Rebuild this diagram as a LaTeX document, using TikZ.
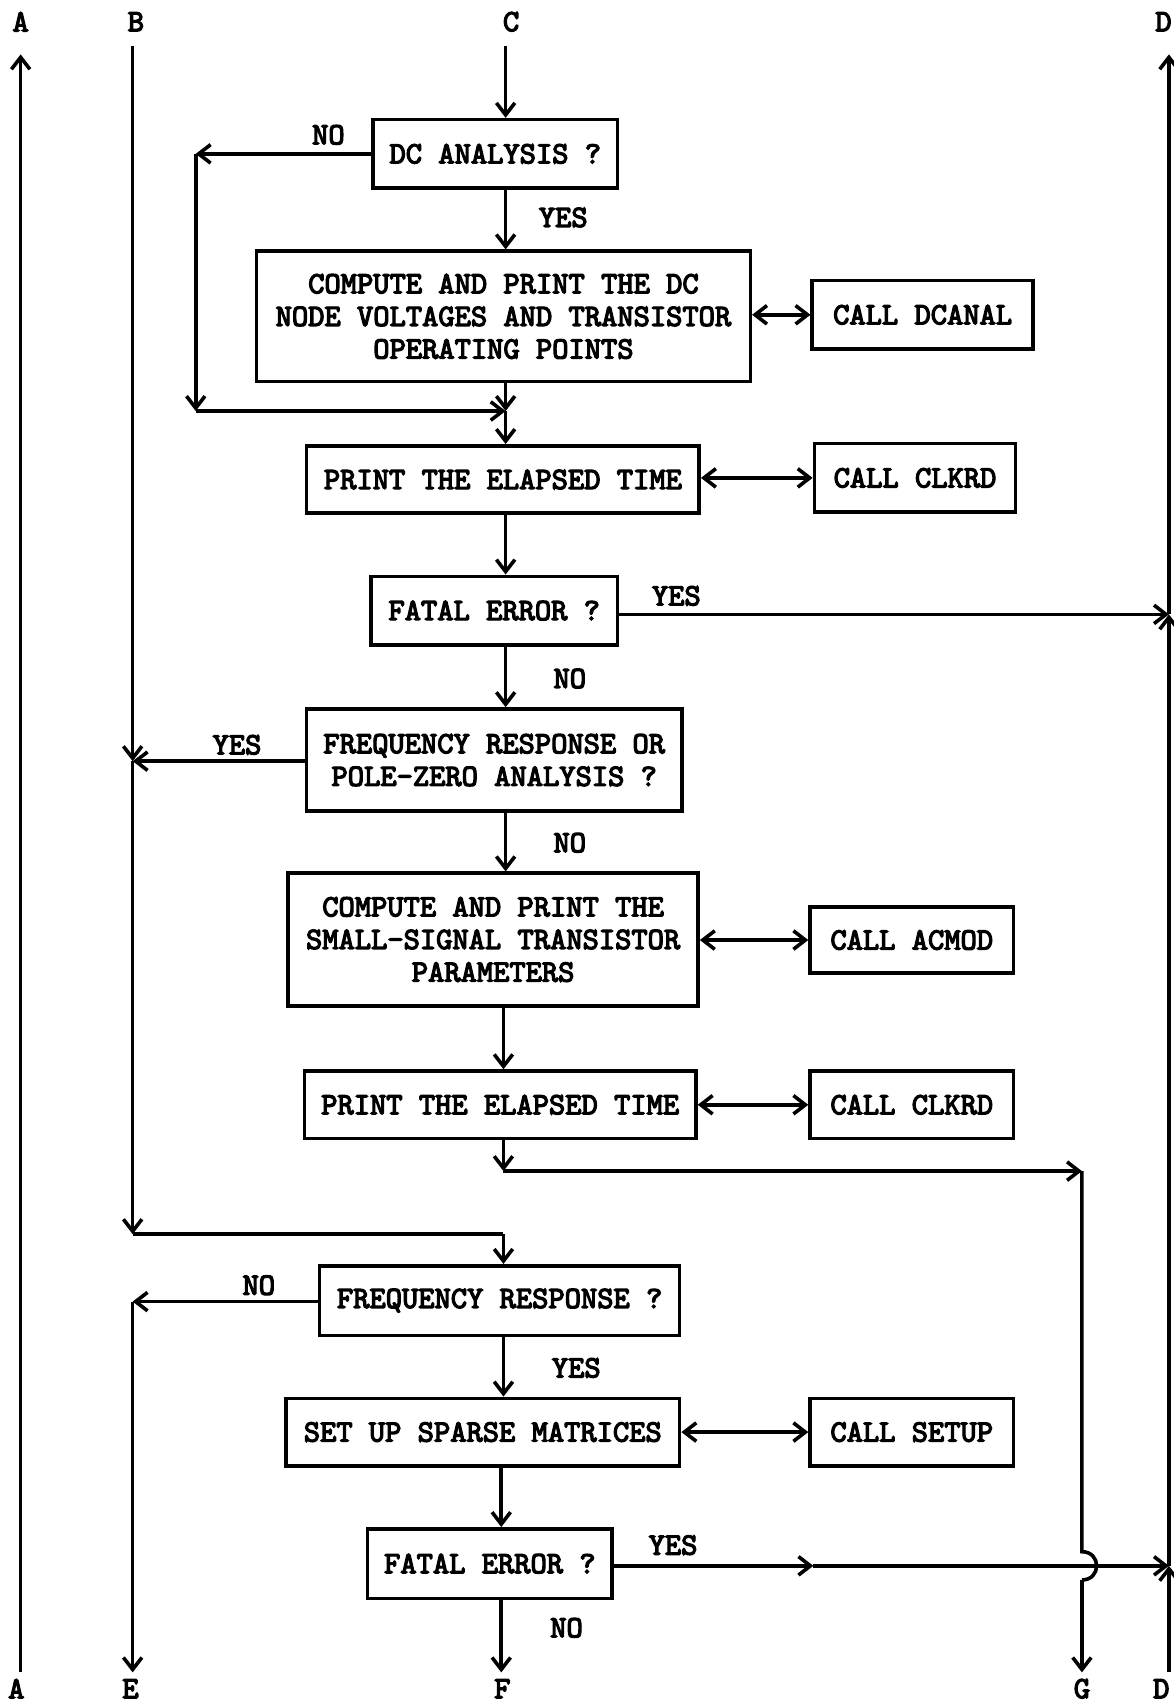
\documentclass[tikz,border=0pt]{standalone}
\usepackage{fontspec}
\newfontfamily\tw{lmmono10-regular.otf}[AutoFakeBold=4]
\usetikzlibrary{arrows.meta}
\tikzset{
  flowbox/.style={draw, line width=3.3pt, align=center, inner sep=0pt,
    font=\tw\bfseries\fontsize{28.5}{30}\selectfont},
  lbl/.style={font=\tw\bfseries\fontsize{28.5}{30}\selectfont, inner sep=0pt},
  ln/.style={line width=3.3pt},
  arr/.style={ln, -{Straight Barb[length=11pt,width=17pt]}},
  darr/.style={ln, {Straight Barb[length=11pt,width=17pt]}-{Straight Barb[length=11pt,width=17pt]}},
}
\begin{document}
\begin{tikzpicture}[x=1pt,y=-1pt]
\useasboundingbox (0,0) rectangle (1079,1568);
\fill[white] (0,0) rectangle (1079,1568);

% boxes
\node[flowbox, minimum width=225pt, minimum height=63pt] (dc) at (455.5,141.5) {DC ANALYSIS ?};
\node[flowbox, minimum width=454pt, minimum height=120pt] (comp1) at (463,291) {COMPUTE AND PRINT THE DC\\NODE VOLTAGES AND TRANSISTOR\\OPERATING POINTS};
\node[flowbox, minimum width=203pt, minimum height=63pt] (dcanal) at (848.5,289.5) {CALL DCANAL};
\node[flowbox, minimum width=361pt, minimum height=62pt] (pet1) at (462.5,441) {PRINT THE ELAPSED TIME};
\node[flowbox, minimum width=185pt, minimum height=63pt] (clk1) at (841.5,439.5) {CALL CLKRD};
\node[flowbox, minimum width=227pt, minimum height=63pt] (fat1) at (454.5,561.5) {FATAL ERROR ?};
\node[flowbox, minimum width=345pt, minimum height=94pt] (frq1) at (454.5,699) {FREQUENCY RESPONSE OR\\POLE-ZERO ANALYSIS ?};
\node[flowbox, minimum width=377pt, minimum height=122pt] (comp2) at (453.5,864) {COMPUTE AND PRINT THE\\SMALL-SIGNAL TRANSISTOR\\PARAMETERS};
\node[flowbox, minimum width=187pt, minimum height=61pt] (acmod) at (838.5,864.5) {CALL ACMOD};
\node[flowbox, minimum width=360pt, minimum height=62pt] (pet2) at (460,1016) {PRINT THE ELAPSED TIME};
\node[flowbox, minimum width=187pt, minimum height=62pt] (clk2) at (838.5,1016) {CALL CLKRD};
\node[flowbox, minimum width=331pt, minimum height=64pt] (frq2) at (459.5,1196) {FREQUENCY RESPONSE ?};
\node[flowbox, minimum width=362pt, minimum height=62pt] (setup) at (444,1317) {SET UP SPARSE MATRICES};
\node[flowbox, minimum width=187pt, minimum height=62pt] (csetup) at (838.5,1317) {CALL SETUP};
\node[flowbox, minimum width=225pt, minimum height=64pt] (fat2) at (450.5,1438) {FATAL ERROR ?};

% off-page letters
\node[lbl] (tA) at (19,20) {A};
\node[lbl] (tB) at (125,20) {B};
\node[lbl] (tC) at (470,20) {C};
\node[lbl] (tD) at (1070,20) {D};
\node[lbl] (bA) at (15,1553) {A};
\node[lbl] (bE) at (120,1553) {E};
\node[lbl] (bF) at (462,1553) {F};
\node[lbl] (bG) at (995,1553) {G};
\node[lbl] (bD) at (1068,1553) {D};

% edge labels
\node[lbl] (l1) at (302,124) {NO};
\node[lbl] (l2) at (518,200) {YES};
\node[lbl] (l3) at (622,548) {YES};
\node[lbl] (l4) at (524,624) {NO};
\node[lbl] (l5) at (218,685) {YES};
\node[lbl] (l6) at (524,775) {NO};
\node[lbl] (l7) at (238,1182) {NO};
\node[lbl] (l8) at (530,1258) {YES};
\node[lbl] (l9) at (619,1421) {YES};
\node[lbl] (l10) at (521,1497) {NO};

% coordinates
\coordinate (Atop) at (19,50);
\coordinate (Abot) at (19,1538);
\coordinate (Btop) at (122,42);
\coordinate (Byes) at (122,700);
\coordinate (Bjoin) at (122,1135);
\coordinate (Bx) at (463,1135);
\coordinate (Ctop) at (465,42);
\coordinate (Dtop) at (1075,50);
\coordinate (D1) at (1075,565);
\coordinate (D2) at (1075,1440);
\coordinate (Dbot) at (1075,1538);
\coordinate (noL) at (180,141.5);
\coordinate (noLb) at (180,378);
\coordinate (merge) at (465,378);
\coordinate (Gj) at (463,1077);
\coordinate (Gc) at (995,1077);
\coordinate (Ghop1) at (995,1427);
\coordinate (Ghop2) at (995,1453);
\coordinate (Gbot) at (995,1538);
\coordinate (Eturn) at (122,1197);
\coordinate (Ebot) at (122,1538);
\coordinate (Fbot) at (461,1538);
\coordinate (mid2) at (748,1440);

% main flow
\draw[arr] (Ctop) -- (dc.north -| Ctop);
\draw[arr] (dc.south -| Ctop) -- (comp1.north -| Ctop);
\draw[arr] (dc.west) -- (noL);
\draw[arr] (noL) -- (noLb);
\draw[arr] (noLb) -- (merge);
\draw[arr] (comp1.south -| merge) -- (merge);
\draw[arr] (merge) -- (pet1.north -| merge);
\draw[arr] (pet1.south -| Ctop) -- (fat1.north -| Ctop);
\draw[arr] (fat1.east |- D1) -- (D1);
\draw[arr] (fat1.south -| Ctop) -- (frq1.north -| Ctop);
\draw[arr] (frq1.west |- Byes) -- (Byes);
\draw[arr] (frq1.south -| Ctop) -- (comp2.north -| Ctop);
\draw[arr] (comp2.south -| Gj) -- (pet2.north -| Gj);
\draw[arr] (pet2.south -| Gj) -- (Gj);
\draw[arr] (Gj) -- (Gc);
\draw[ln] (Gc) -- (Ghop1) .. controls +(18,0) and +(18,0) .. (Ghop2);
\draw[arr] (Ghop2) -- (Gbot);

% B line
\draw[arr] (Btop) -- (Byes);
\draw[arr] (Byes) -- (Bjoin);
\draw[ln] (Bjoin) -- (Bx);
\draw[arr] (Bx) -- (frq2.north -| Bx);

% lower section
\draw[arr] (frq2.west |- Eturn) -- (Eturn);
\draw[arr] (Eturn) -- (Ebot);
\draw[arr] (frq2.south -| Gj) -- (setup.north -| Gj);
\draw[arr] (setup.south -| Fbot) -- (fat2.north -| Fbot);
\draw[arr] (fat2.east |- mid2) -- (mid2);
\draw[arr] (mid2) -- (D2);
\draw[arr] (fat2.south -| Fbot) -- (Fbot);

% D and A lines
\draw[arr] (Dbot) -- (D2);
\draw[arr] (D2) -- (D1);
\draw[arr] (D1) -- (Dtop);
\draw[arr] (Abot) -- (Atop);

% subroutine calls
\draw[darr] (comp1.east |- dcanal) -- (dcanal.west);
\draw[darr] (pet1.east |- clk1) -- (clk1.west);
\draw[darr] (comp2.east |- acmod) -- (acmod.west);
\draw[darr] (pet2.east |- clk2) -- (clk2.west);
\draw[darr] (setup.east |- csetup) -- (csetup.west);
\end{tikzpicture}
\end{document}
